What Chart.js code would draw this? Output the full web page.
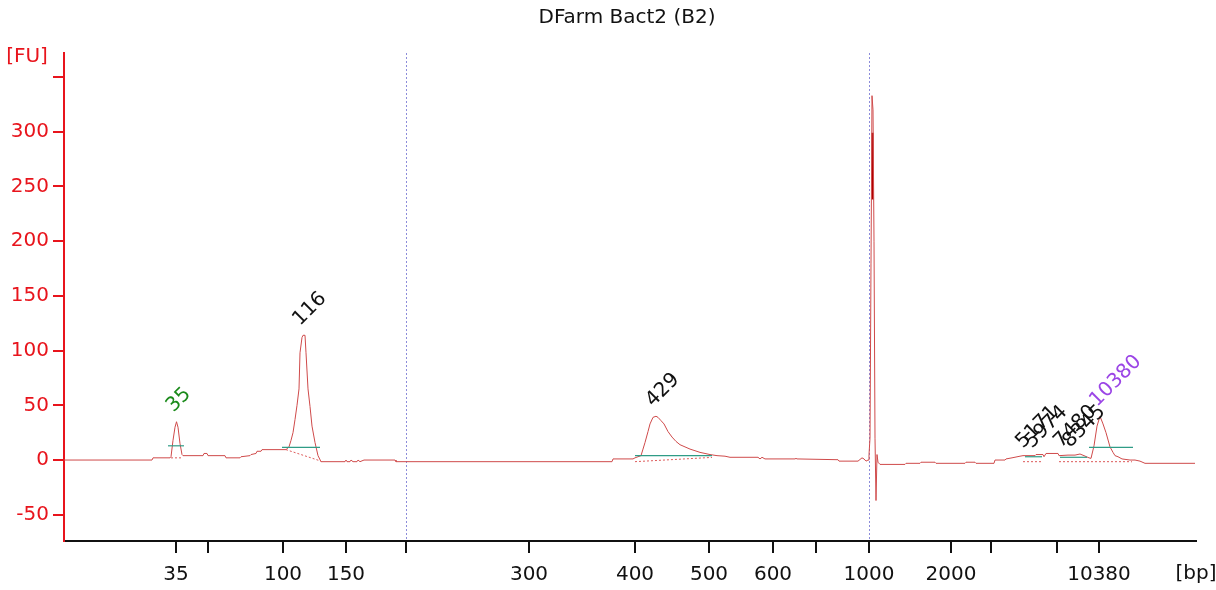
<!DOCTYPE html>
<html>
<head>
<meta charset="utf-8">
<script src="https://cdn.jsdelivr.net/npm/chart.js@4"></script>
<style>
	body { margin: 0; background: #fff; }
	#wrap { width: 1216px; height: 590px; position: relative; }
</style>
</head>
<body>
<div id="wrap"><canvas id="chart"></canvas></div>
<script>
// migration position (plot units) and fluorescence of the trace
const tracePos = [0, 88, 89, 106, 107, 109, 111, 112.5, 114, 116, 118, 119, 139, 140, 143, 144, 161, 162, 176, 177, 186, 187, 192, 193, 197, 198, 222, 225, 227, 229, 231, 233, 235, 236, 238, 239, 241, 242, 244, 246, 248, 251, 254, 257, 281, 282, 283, 286, 287, 289, 293, 294, 296, 300, 331, 332, 548, 549, 569, 571, 577, 579, 581, 584, 586, 589, 592, 594, 597, 600, 604, 608, 612, 616, 621, 626, 631, 636, 641, 646, 653, 661, 666, 694, 696, 698, 701, 731, 732, 733, 774, 775, 794, 798, 800, 802, 804, 805, 806, 807, 808, 809, 810, 811, 812, 813, 814, 816, 841, 842, 856, 857, 871, 872, 901, 902, 911, 912, 930, 931, 941, 942, 948, 956, 959, 971, 972, 979, 980, 982, 994, 995, 1004, 1011, 1016, 1020, 1025, 1027, 1030, 1033, 1036, 1039, 1042, 1046, 1049, 1051, 1054, 1058, 1066, 1071, 1076, 1081, 1131];
const traceFU = [0, 0, 2, 2, 3, 18, 30, 35, 30, 15, 5, 4, 4, 6, 6, 4, 4, 2, 2, 3, 4, 5, 6, 8, 8, 9.5, 9.5, 12, 18, 25, 37, 50, 65, 98, 112, 114, 114, 98, 65, 49, 31, 16, 4, -1.5, -1.5, 0, -1.5, -1.5, 0, -1.5, -1.5, 0, -1.5, 0, 0, -1.5, -1.5, 1, 1, 2, 4, 10, 16, 26, 33, 39, 40, 39, 36, 33, 26, 21, 17, 14, 12, 10, 8.5, 7, 6, 5, 4, 3.5, 2.5, 2.5, 1, 2.5, 1, 1, 1.5, 1, 0.3, -1, -1, 2, 1, -1, 0, 5, 20, 180, 333, 320, 200, 20, -37, 5, -2, -4, -4, -3, -3, -2, -2, -3, -3, -2, -2, -3, -3, 0, 0, 1, 2, 3.5, 4, 4, 5, 5, 3, 6, 6, 4, 4.5, 4.5, 5.5, 4, 2, 1.5, 13, 31, 40, 33, 25, 12, 7, 4, 3, 1, 0, 0, -1, -3, -3];

// darker overlay on the marker spike
const markPos = [808.4, 808.6];
const markFU = [299, 238];

// x axis: tick positions and their bp labels
const xTickPos = [112, 144, 219, 282, 342, 465, 571, 645, 709, 752, 805, 887, 927, 993, 1035];
const xTickLabels = ['35', '', '100', '150', '', '300', '400', '500', '600', '', '1000', '2000', '', '', '10380'];
const yTicks = [-50, 0, 50, 100, 150, 200, 250, 300, 350];
const yTickLabels = ['-50', '0', '50', '100', '150', '200', '250', '300', ''];

// lower / upper marker lines
const markerLines = [342, 805];

// called peaks
const peakPos = [112.5, 239, 592, 962, 971, 1000, 1009, 1036];
const peakFU = [35, 114, 40, 2, 2, 2.5, 2.5, 40];
const peakLabels = ['35', '116', '429', '5171', '5974', '7480', '8345', '10380'];
const peakColors = ['#1a8a1a', '#111', '#111', '#111', '#111', '#111', '#111', '#9b45e6'];

// peak baselines (level) and integration baselines (dotted)
const levelStart = [104, 218, 571, 961, 996, 1025];
const levelEnd = [120, 256, 648, 978, 1023, 1069];
const levelFU = [13, 11.5, 4, 3, 2.5, 11.5];
const dotStart = [107, 222, 571, 959, 995];
const dotEnd = [119, 257, 648, 979, 1068];
const dotStartFU = [2, 9.5, -1.5, -1.5, -1.5];
const dotEndFU = [2, -1, 2.4, -1.5, -1.5];

const RED = '#e8141c';
const FONT = 'DejaVu Sans';

function zip(xs, ys) {
	return xs.map((x, i) => ({ x: x, y: ys[i] }));
}

const datasets = [];
levelStart.forEach((s, i) => {
	datasets.push({
		data: [{ x: s, y: levelFU[i] }, { x: levelEnd[i], y: levelFU[i] }],
		borderColor: '#2f9c86', borderWidth: 1.2, pointRadius: 0
	});
});
dotStart.forEach((s, i) => {
	datasets.push({
		data: [{ x: s, y: dotStartFU[i] }, { x: dotEnd[i], y: dotEndFU[i] }],
		borderColor: '#dd5a5a', borderWidth: 1, borderDash: [2, 2], pointRadius: 0
	});
});
datasets.push({
	data: zip(tracePos, traceFU),
	borderColor: '#cf4a4a', borderWidth: 1, pointRadius: 0
});
datasets.push({
	data: zip(markPos, markFU),
	borderColor: '#b00000', borderWidth: 2, pointRadius: 0
});

const overlay = {
	id: 'overlay',
	beforeDatasetsDraw(chart) {
		const { ctx, scales: { x }, chartArea } = chart;
		ctx.save();
		ctx.strokeStyle = '#8c8cda';
		ctx.lineWidth = 1;
		ctx.setLineDash([2, 2]);
		markerLines.forEach(p => {
			const px = Math.round(x.getPixelForValue(p)) + 0.5;
			ctx.beginPath();
			ctx.moveTo(px, chartArea.top);
			ctx.lineTo(px, chartArea.bottom);
			ctx.stroke();
		});
		ctx.restore();
	},
	afterDraw(chart) {
		const { ctx, scales: { x, y } } = chart;
		ctx.save();
		ctx.font = '20px "' + FONT + '"';
		ctx.textBaseline = 'middle';
		ctx.textAlign = 'center';
		ctx.fillStyle = '#111';
		ctx.fillText('DFarm Bact2 (B2)', 627, 18);
		ctx.fillStyle = RED;
		ctx.fillText('[FU]', 27, 57);
		ctx.fillStyle = '#111';
		ctx.fillText('[bp]', 1196, 574);

		ctx.textAlign = 'left';
		ctx.textBaseline = 'alphabetic';
		peakPos.forEach((p, i) => {
			const px = x.getPixelForValue(p) - 3;
			const py = y.getPixelForValue(peakFU[i]) - 9;
			ctx.save();
			ctx.translate(px, py);
			ctx.rotate(-Math.PI / 4);
			ctx.fillStyle = peakColors[i];
			ctx.fillText(peakLabels[i], 0, 0);
			ctx.restore();
		});
		ctx.restore();
	}
};

new Chart(document.getElementById('chart'), {
	type: 'line',
	data: { datasets },
	options: {
		responsive: true,
		maintainAspectRatio: false,
		animation: false,
		layout: { padding: { top: 53, right: 20, left: 0, bottom: 0 } },
		plugins: { legend: { display: false }, tooltip: { enabled: false }, title: { display: false } },
		scales: {
			x: {
				type: 'linear',
				min: 0,
				max: 1132,
				afterBuildTicks: s => { s.ticks = xTickPos.map(v => ({ value: v })); },
				afterFit: s => { s.height = 49; },
				ticks: {
					autoSkip: false,
					maxRotation: 0,
					color: '#111',
					padding: 10,
					font: { family: FONT, size: 20 },
					callback: (v, i) => xTickLabels[i]
				},
				grid: { drawOnChartArea: false, tickLength: 12, color: '#111', lineWidth: 2 },
				border: { color: '#111', width: 2 }
			},
			y: {
				type: 'linear',
				min: -74,
				max: 372,
				afterBuildTicks: s => { s.ticks = yTicks.map(v => ({ value: v })); },
				afterFit: s => { s.width = 64; },
				ticks: {
					color: RED,
					padding: 4,
					font: { family: FONT, size: 20 },
					callback: (v, i) => yTickLabels[i]
				},
				grid: { drawOnChartArea: false, tickLength: 11, color: RED, lineWidth: 2 },
				border: { color: RED, width: 2 }
			}
		}
	},
	plugins: [overlay]
});
</script>
</body>
</html>
